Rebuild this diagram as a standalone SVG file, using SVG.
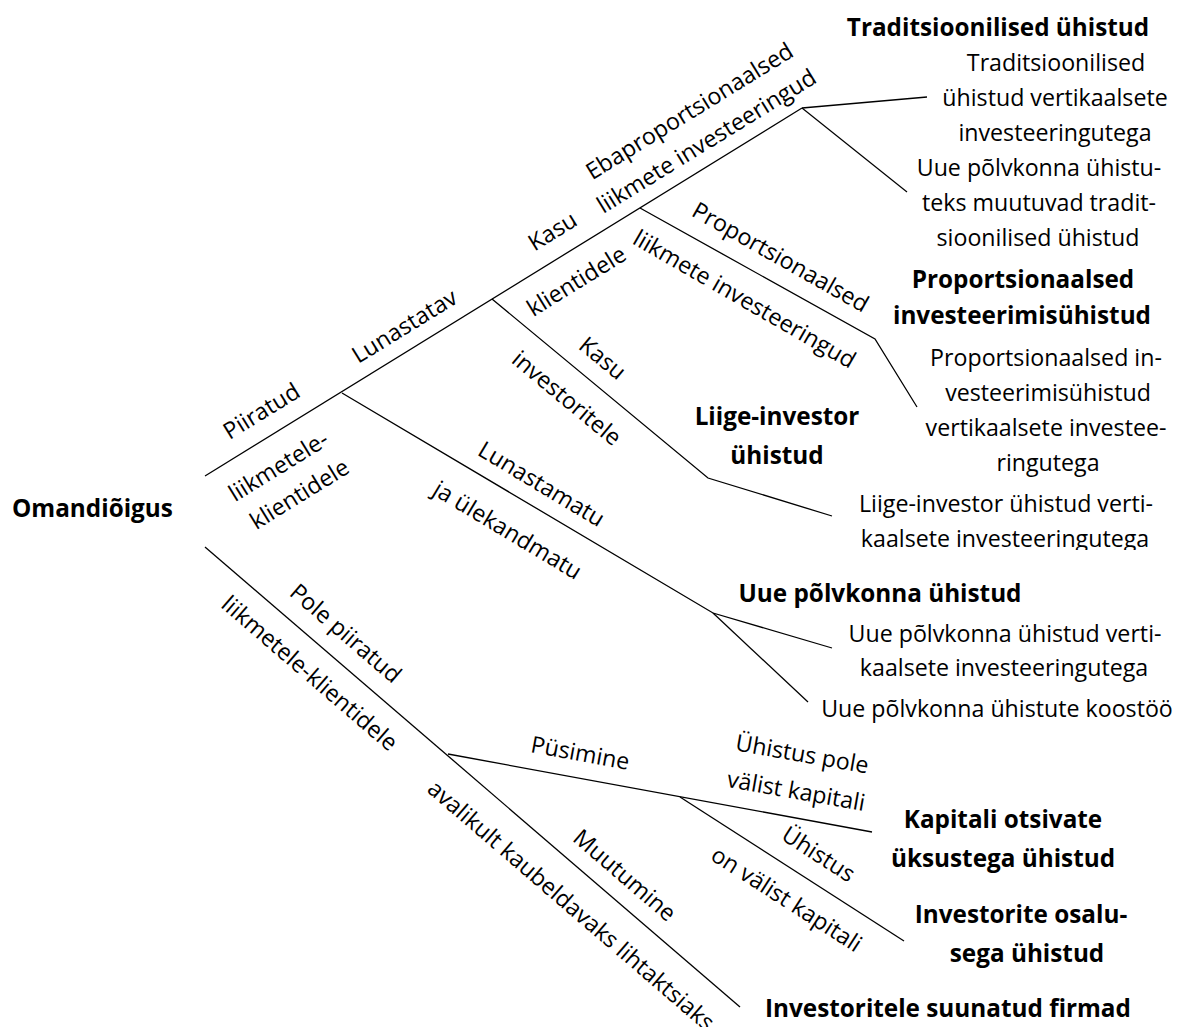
<svg xmlns="http://www.w3.org/2000/svg" width="1177" height="1027" viewBox="0 0 1177 1027">
<style>
text{font-family:"Open Sans","Noto Sans",sans-serif;font-size:23.2px;fill:#000}
.b{font-weight:bold;font-size:24.3px}
.c{text-anchor:middle}
.l{fill:none;stroke:#000;stroke-width:1.3}
</style>
<defs>
<clipPath id="clipL"><rect x="800" y="480" width="377" height="70"/></clipPath>
</defs>
<rect width="1177" height="1027" fill="#fff"/>
<g id="connectors" class="l">
<path d="M205 476L802 108"/>
<path d="M802 108L927 97"/>
<path d="M802 108L907 192"/>
<path d="M640 208L875 339L917 407"/>
<path d="M492 299L708 478L832 516"/>
<path d="M342 393L713 613L832 648"/>
<path d="M713 613L808 702"/>
<path d="M205 547L740 1007"/>
<path d="M448 754L872 832"/>
<path d="M680 797L904 941"/>
</g>
<g id="edge-labels">
<text class="c" transform="translate(262,412) rotate(-31.6)" y="7">Piiratud</text>
<text class="c" transform="translate(405,327) rotate(-31.6)" y="7">Lunastatav</text>
<text class="c" transform="translate(553,232) rotate(-31.6)" y="7">Kasu</text>
<text class="c" transform="translate(690,112) rotate(-31.6)" y="7">Ebaproportsionaalsed</text>
<text class="c" transform="translate(707,142) rotate(-31.6)" y="7">liikmete investeeringud</text>
<text class="c" transform="translate(279,467) rotate(-31.6)" y="7">liikmetele-</text>
<text class="c" transform="translate(300,495) rotate(-31.6)" y="7">klientidele</text>
<text class="c" transform="translate(577,282) rotate(-31.6)" y="7">klientidele</text>
<text class="c" transform="translate(780,258) rotate(29.5)" y="7">Proportsionaalsed</text>
<text class="c" transform="translate(744,300) rotate(30)" y="7">liikmete investeeringud</text>
<text class="c" transform="translate(602,359) rotate(39.6)" y="7">Kasu</text>
<text class="c" transform="translate(566,399) rotate(39.6)" y="7">investoritele</text>
<text class="c" transform="translate(541,485) rotate(31)" y="7">Lunastamatu</text>
<text class="c" transform="translate(507,531) rotate(31)" y="7">ja ülekandmatu</text>
<text class="c" transform="translate(345,634) rotate(40.7)" y="7">Pole piiratud</text>
<text class="c" transform="translate(309,674) rotate(40.7)" y="7">liikmetele-klientidele</text>
<text class="c" transform="translate(580,754) rotate(10.4)" y="7">Püsimine</text>
<text class="c" transform="translate(802,755) rotate(10)" y="7">Ühistus pole</text>
<text class="c" transform="translate(796,792) rotate(10)" y="7">välist kapitali</text>
<text class="c" transform="translate(818,855) rotate(32.7)" y="7">Ühistus</text>
<text class="c" transform="translate(786,900) rotate(32.7)" y="7">on välist kapitali</text>
<text class="c" transform="translate(624,876) rotate(40.7)" y="7">Muutumine</text>
<text transform="translate(426,791) rotate(40.7)">avalikult kaubeldavaks lihtaktsiaks</text>
</g>
<g id="node-root"><text class="b" x="12" y="517">Omandiõigus</text></g>
<g id="node-traditsioonilised">
<text class="b c" x="998" y="36">Traditsioonilised ühistud</text>
<text class="c" x="1056" y="71">Traditsioonilised</text>
<text class="c" x="1055" y="106">ühistud vertikaalsete</text>
<text class="c" x="1055" y="141">investeeringutega</text>
<text class="c" x="1039" y="176">Uue põlvkonna ühistu-</text>
<text class="c" x="1039" y="211">teks muutuvad tradit-</text>
<text class="c" x="1038" y="246">sioonilised ühistud</text>
</g>
<g id="node-proportsionaalsed">
<text class="b c" x="1023" y="288">Proportsionaalsed</text>
<text class="b c" x="1022" y="324">investeerimisühistud</text>
<text class="c" x="1046" y="366">Proportsionaalsed in-</text>
<text class="c" x="1048" y="401">vesteerimisühistud</text>
<text class="c" x="1046" y="436">vertikaalsete investee-</text>
<text class="c" x="1048" y="471">ringutega</text>
</g>
<g id="node-liige-investor">
<text class="b c" x="777" y="425">Liige-investor</text>
<text class="b c" x="777" y="464">ühistud</text>
<text class="c" x="1006" y="512">Liige-investor ühistud verti-</text>
<text class="c" x="1005" y="547" clip-path="url(#clipL)">kaalsete investeeringutega</text>
</g>
<g id="node-uue-polvkonna">
<text class="b c" x="880" y="602">Uue põlvkonna ühistud</text>
<text class="c" x="1005" y="642">Uue põlvkonna ühistud verti-</text>
<text class="c" x="1004" y="676">kaalsete investeeringutega</text>
<text class="c" x="997" y="717">Uue põlvkonna ühistute koostöö</text>
</g>
<g id="node-kapitali">
<text class="b c" x="1003" y="828">Kapitali otsivate</text>
<text class="b c" x="1003" y="867">üksustega ühistud</text>
</g>
<g id="node-investorite-osalusega">
<text class="b c" x="1021" y="923">Investorite osalu-</text>
<text class="b c" x="1027" y="962">sega ühistud</text>
</g>
<g id="node-investoritele">
<text class="b" x="765" y="1017">Investoritele suunatud firmad</text>
</g>
</svg>
